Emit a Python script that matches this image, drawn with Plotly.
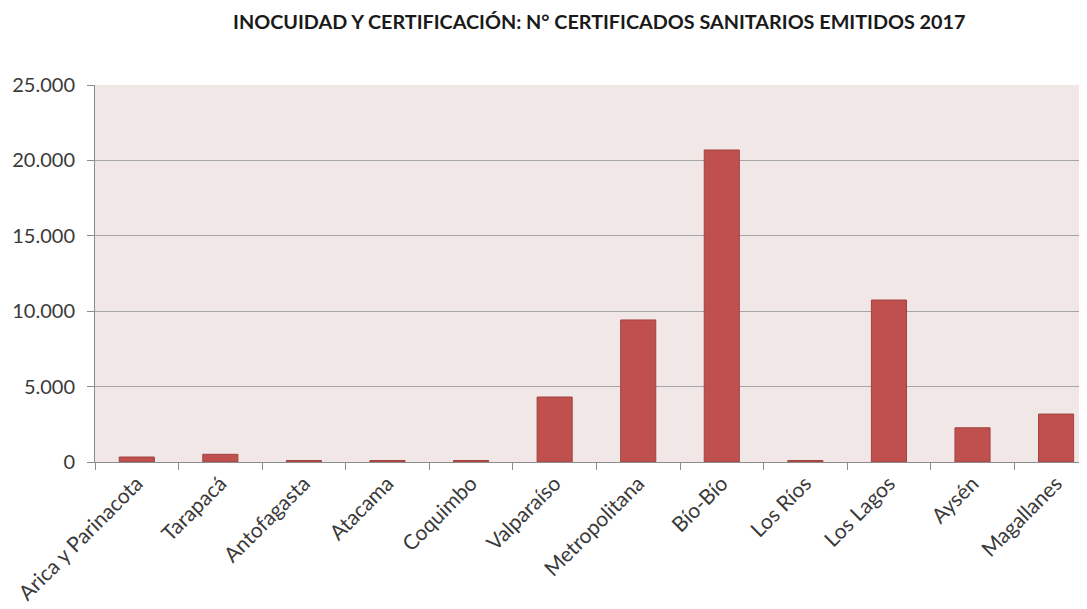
import plotly.graph_objects as go

regiones = ["Arica y Parinacota", "Tarapacá", "Antofagasta", "Atacama", "Coquimbo",
            "Valparaíso", "Metropolitana", "Bío-Bío", "Los Ríos", "Los Lagos",
            "Aysén", "Magallanes"]
certificados = [330, 510, 100, 100, 100, 4310, 9420, 20690, 100, 10740, 2270, 3180]
y_ticks = [0, 5000, 10000, 15000, 20000, 25000]
y_ticklabels = ["0", "5.000", "10.000", "15.000", "20.000", "25.000"]

fig = go.Figure(go.Bar(
    x=regiones, y=certificados,
    marker=dict(color="#C0504D", line=dict(color="#A04340", width=1)),
    width=0.42,
))

fig.update_layout(
    width=1079, height=601,
    margin=dict(l=87, r=0, t=77, b=147),
    paper_bgcolor="white",
    plot_bgcolor="#F2E7E7",
    showlegend=False,
    title=dict(text="<b>INOCUIDAD Y CERTIFICACIÓN: N° CERTIFICADOS SANITARIOS EMITIDOS 2017</b>",
               x=0.548, xanchor="center", y=0.977, yanchor="middle",
               font=dict(family="Lato, sans-serif", size=19.8, color="#1a1a1a")),
    font=dict(family="Lato, sans-serif", color="#3a3a3a"),
)

fig.update_xaxes(
    type="category", range=[-0.5, 11.37],
    tickangle=-45, tickfont=dict(size=21, color="#3a3a3a"),
    showline=True, linecolor="#8C8C8C", linewidth=1,
    ticks="outside", tickson="boundaries", ticklen=7, tickcolor="#8C8C8C",
    showgrid=False, automargin=False,
)
fig.update_yaxes(
    range=[0, 25000], tickvals=y_ticks, ticktext=y_ticklabels,
    tickfont=dict(size=20, color="#3a3a3a"),
    showline=True, linecolor="#8C8C8C", linewidth=1,
    ticks="outside", ticklen=7, tickcolor="#8C8C8C", ticklabelstandoff=8,
    showgrid=True, gridcolor="#A6A6A6", gridwidth=1,
    zeroline=False, automargin=False,
)

fig.write_html("out.html")
